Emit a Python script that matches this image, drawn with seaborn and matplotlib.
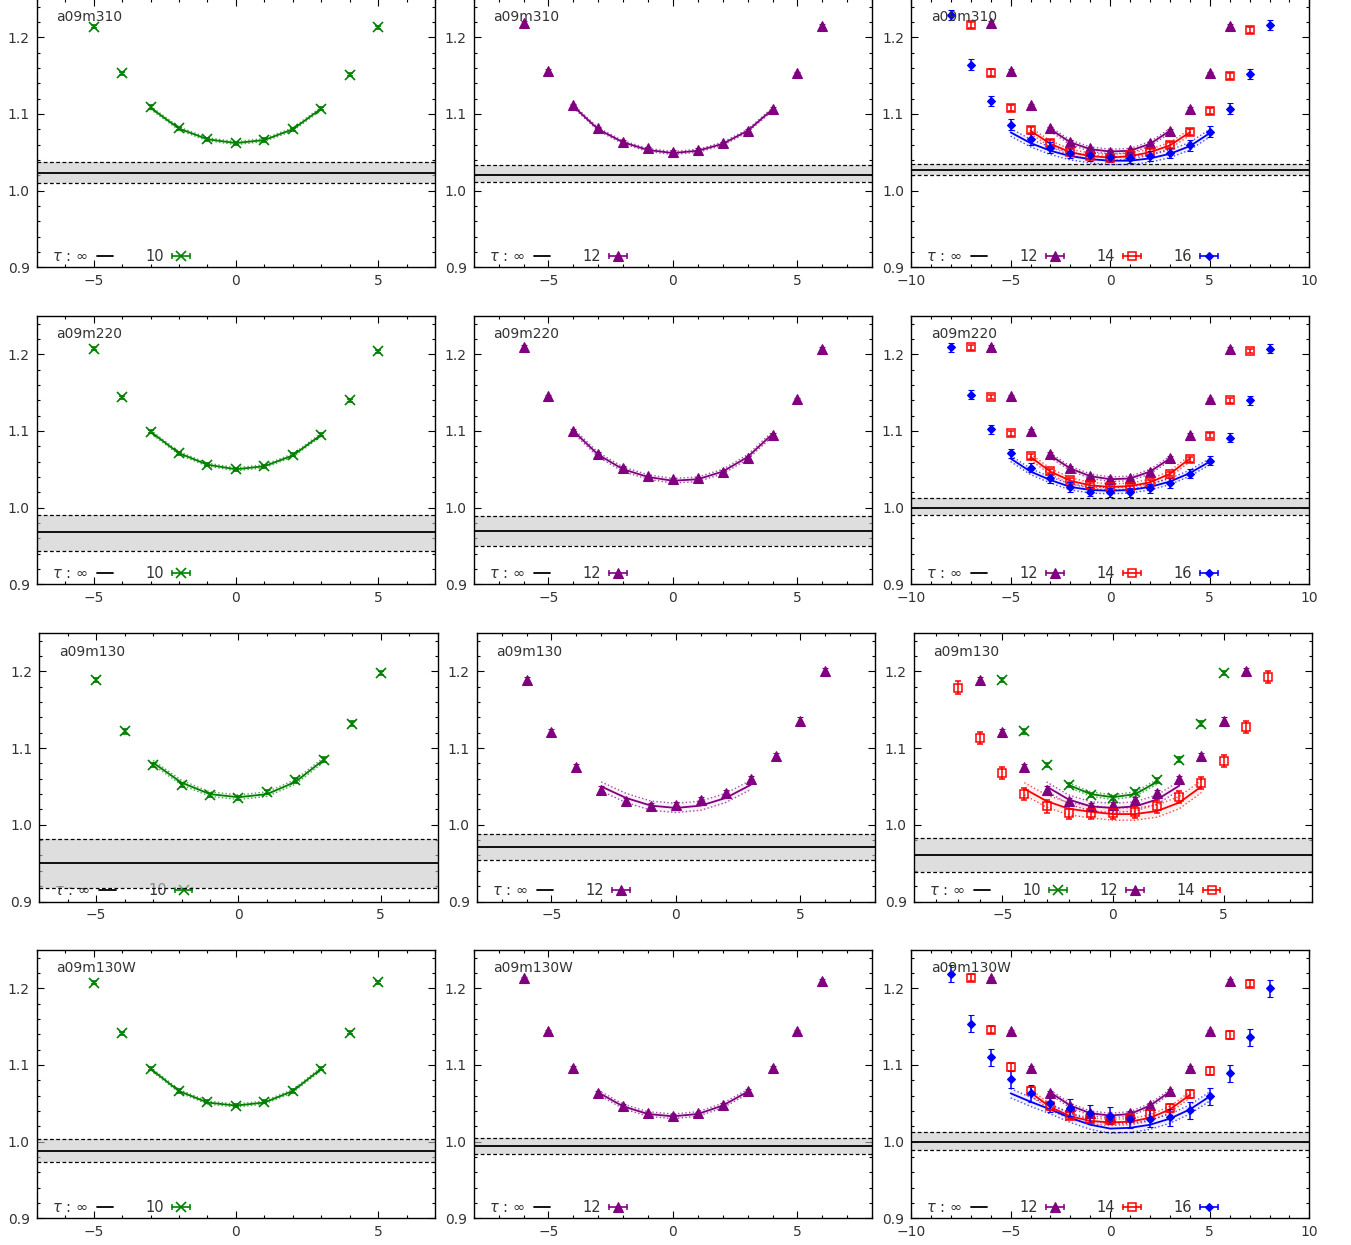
import numpy as np
import matplotlib.pyplot as plt
import seaborn as sns
from matplotlib.ticker import MultipleLocator, FormatStrFormatter

# ---- values ----
x_t10 = [-5, -4, -3, -2, -1, 0, 1, 2, 3, 4, 5]
x_t12 = [-6, -5, -4, -3, -2, -1, 0, 1, 2, 3, 4, 5, 6]
x_t14 = [-7, -6, -5, -4, -3, -2, -1, 0, 1, 2, 3, 4, 5, 6, 7]
x_t16 = [-8, -7, -6, -5, -4, -3, -2, -1, 0, 1, 2, 3, 4, 5, 6, 7, 8]

fx2 = [-2, -1, 0, 1, 2]
fx3 = [-3, -2, -1, 0, 1, 2, 3]
fx4 = [-4, -3, -2, -1, 0, 1, 2, 3, 4]
fx5 = [-5, -4, -3, -2, -1, 0, 1, 2, 3, 4, 5]

# a09m310
m310_t10 = [1.214, 1.153, 1.109, 1.081, 1.067, 1.062, 1.066, 1.080, 1.107, 1.151, 1.213]
m310_t12 = [1.219, 1.156, 1.111, 1.081, 1.064, 1.055, 1.051, 1.053, 1.062, 1.078, 1.107, 1.153, 1.215]
m310_t14 = [1.216, 1.154, 1.108, 1.079, 1.062, 1.050, 1.045, 1.043, 1.047, 1.050, 1.059, 1.076, 1.104, 1.149, 1.210]
m310_t16 = [1.229, 1.164, 1.117, 1.086, 1.067, 1.056, 1.049, 1.046, 1.044, 1.043, 1.045, 1.049, 1.059, 1.077, 1.107, 1.152, 1.216]
m310_err = [0.002, 0.002, 0.004, 0.007]
m310_band = [(1.023, 1.010, 1.037), (1.021, 1.011, 1.033), (1.027, 1.020, 1.035)]
m310_fit_c1_t10 = [1.108, 1.081, 1.067, 1.062, 1.066, 1.080, 1.107]
m310_fit_c2_t12 = [1.110, 1.080, 1.063, 1.053, 1.049, 1.052, 1.061, 1.078, 1.106]
m310_fit_c3_t12 = [1.080, 1.063, 1.054, 1.051, 1.052, 1.061, 1.078]
m310_fit_c3_t14 = [1.078, 1.061, 1.050, 1.045, 1.043, 1.045, 1.050, 1.059, 1.076]
m310_fit_c3_t16 = [1.076, 1.062, 1.052, 1.045, 1.041, 1.039, 1.039, 1.042, 1.048, 1.058, 1.075]

# a09m220
m220_t10 = [1.207, 1.144, 1.099, 1.071, 1.056, 1.050, 1.054, 1.069, 1.095, 1.140, 1.204]
m220_t12 = [1.210, 1.145, 1.100, 1.070, 1.052, 1.041, 1.037, 1.038, 1.047, 1.065, 1.095, 1.141, 1.207]
m220_t14 = [1.209, 1.144, 1.097, 1.067, 1.048, 1.036, 1.029, 1.027, 1.027, 1.033, 1.044, 1.063, 1.094, 1.140, 1.204]
m220_t16 = [1.209, 1.147, 1.102, 1.071, 1.052, 1.038, 1.027, 1.021, 1.020, 1.020, 1.025, 1.032, 1.044, 1.061, 1.091, 1.140, 1.207]
m220_err = [0.002, 0.002, 0.003, 0.006]
m220_band = [(0.968, 0.944, 0.990), (0.970, 0.950, 0.989), (1.000, 0.991, 1.012)]
m220_fit_c1_t10 = [1.099, 1.071, 1.056, 1.050, 1.054, 1.068, 1.095]
m220_fit_c2_t12 = [1.100, 1.069, 1.050, 1.040, 1.035, 1.037, 1.047, 1.066, 1.096]
m220_fit_c3_t12 = [1.068, 1.051, 1.041, 1.037, 1.038, 1.047, 1.064]
m220_fit_c3_t14 = [1.066, 1.047, 1.035, 1.029, 1.027, 1.028, 1.033, 1.044, 1.064]
m220_fit_c3_t16 = [1.064, 1.047, 1.036, 1.027, 1.023, 1.022, 1.023, 1.027, 1.034, 1.045, 1.060]

# a09m130
m130_t10 = [1.189, 1.122, 1.078, 1.052, 1.039, 1.035, 1.043, 1.058, 1.085, 1.132, 1.198]
m130_t12 = [1.189, 1.121, 1.075, 1.046, 1.031, 1.025, 1.026, 1.032, 1.042, 1.060, 1.090, 1.136, 1.201]
m130_t14 = [1.179, 1.113, 1.068, 1.040, 1.024, 1.016, 1.015, 1.016, 1.017, 1.024, 1.036, 1.055, 1.083, 1.128, 1.193]
m130_err = [0.003, 0.004, 0.008]
m130_band = [(0.950, 0.918, 0.982), (0.971, 0.954, 0.988), (0.960, 0.939, 0.983)]
m130_fit_c1_t10 = [1.081, 1.055, 1.040, 1.036, 1.040, 1.056, 1.085]
m130_fit_c2_t12 = [1.050, 1.035, 1.025, 1.022, 1.025, 1.035, 1.052]
m130_fit_c3_t10 = [1.052, 1.040, 1.036, 1.040, 1.056]
m130_fit_c3_t12 = [1.050, 1.033, 1.024, 1.022, 1.024, 1.033, 1.051]
m130_fit_c3_t14 = [1.047, 1.031, 1.021, 1.017, 1.014, 1.014, 1.018, 1.029, 1.050]

# a09m130W
m130W_t10 = [1.207, 1.141, 1.095, 1.066, 1.052, 1.047, 1.052, 1.066, 1.095, 1.142, 1.208]
m130W_t12 = [1.213, 1.144, 1.096, 1.064, 1.047, 1.037, 1.034, 1.037, 1.048, 1.066, 1.096, 1.144, 1.210]
m130W_t14 = [1.214, 1.146, 1.097, 1.066, 1.046, 1.034, 1.029, 1.028, 1.031, 1.036, 1.044, 1.062, 1.092, 1.139, 1.206]
m130W_t16 = [1.219, 1.154, 1.110, 1.081, 1.063, 1.050, 1.044, 1.037, 1.034, 1.029, 1.030, 1.032, 1.041, 1.059, 1.089, 1.136, 1.200]
m130W_err = [0.002, 0.002, 0.005, 0.011]
m130W_band = [(0.988, 0.973, 1.003), (0.994, 0.984, 1.005), (1.000, 0.989, 1.012)]
m130W_fit_c1_t10 = [1.095, 1.066, 1.051, 1.047, 1.051, 1.066, 1.095]
m130W_fit_c2_t12 = [1.064, 1.046, 1.036, 1.033, 1.036, 1.047, 1.065]
m130W_fit_c3_t12 = [1.064, 1.047, 1.037, 1.034, 1.036, 1.047, 1.065]
m130W_fit_c3_t14 = [1.064, 1.045, 1.033, 1.027, 1.025, 1.026, 1.031, 1.042, 1.061]
m130W_fit_c3_t16 = [1.063, 1.052, 1.042, 1.031, 1.022, 1.017, 1.018, 1.022, 1.030, 1.042, 1.059]

xs = {10: x_t10, 12: x_t12, 14: x_t14, 16: x_t16}
colors = {10: '#008000', 12: '#800080', 14: '#ff0000', 16: '#0000ff'}
mstyle = {10: dict(marker='x', ms=6.5, mew=1.2, mfc='none'),
          12: dict(marker='^', ms=6.5, mew=0.8),
          14: dict(marker='s', ms=6, mew=1.1, mfc='none'),
          16: dict(marker='D', ms=4.2, mew=0.8)}

rows = [
    ('a09m310', {10: m310_t10, 12: m310_t12, 14: m310_t14, 16: m310_t16},
     dict(zip([10, 12, 14, 16], m310_err)), m310_band,
     [{10: (fx3, m310_fit_c1_t10, 0.002)},
      {12: (fx4, m310_fit_c2_t12, 0.002)},
      {12: (fx3, m310_fit_c3_t12, 0.003), 14: (fx4, m310_fit_c3_t14, 0.004),
       16: (fx5, m310_fit_c3_t16, 0.005)}],
     [-10, 10]),
    ('a09m220', {10: m220_t10, 12: m220_t12, 14: m220_t14, 16: m220_t16},
     dict(zip([10, 12, 14, 16], m220_err)), m220_band,
     [{10: (fx3, m220_fit_c1_t10, 0.002)},
      {12: (fx4, m220_fit_c2_t12, 0.003)},
      {12: (fx3, m220_fit_c3_t12, 0.003), 14: (fx4, m220_fit_c3_t14, 0.004),
       16: (fx5, m220_fit_c3_t16, 0.004)}],
     [-10, 10]),
    ('a09m130', {10: m130_t10, 12: m130_t12, 14: m130_t14},
     dict(zip([10, 12, 14], m130_err)), m130_band,
     [{10: (fx3, m130_fit_c1_t10, 0.003)},
      {12: (fx3, m130_fit_c2_t12, 0.006)},
      {10: (fx2, m130_fit_c3_t10, 0.003), 12: (fx3, m130_fit_c3_t12, 0.006),
       14: (fx4, m130_fit_c3_t14, 0.008)}],
     [-9, 9]),
    ('a09m130W', {10: m130W_t10, 12: m130W_t12, 14: m130W_t14, 16: m130W_t16},
     dict(zip([10, 12, 14, 16], m130W_err)), m130W_band,
     [{10: (fx3, m130W_fit_c1_t10, 0.002)},
      {12: (fx3, m130W_fit_c2_t12, 0.003)},
      {12: (fx3, m130W_fit_c3_t12, 0.003), 14: (fx4, m130W_fit_c3_t14, 0.004),
       16: (fx5, m130W_fit_c3_t16, 0.006)}],
     [-10, 10]),
]

sns.set_style('ticks')
plt.rcParams['font.family'] = ['DejaVu Sans']
plt.rcParams['mathtext.fontset'] = 'dejavusans'
txt = '#333333'

W, H = 1351, 1245
fig = plt.figure(figsize=(W / 100, H / 100), dpi=100)

row_bottom = [267.3, 584.3, 901.5, 1218.3]
col_left = [[36.7, 473.7, 911.0], [36.7, 473.7, 911.0], [39.3, 476.7, 913.7], [36.7, 473.7, 911.0]]
aw, ah = 398.4, 268.4


def draw_legend(ax, taus):
    y = 0.041
    ax.text(0.127, y, r'$\tau$ : $\infty$', transform=ax.transAxes, ha='right', va='center',
            fontsize=10.5, color=txt, zorder=1)
    ax.plot([0.151, 0.192], [y, y], color='black', lw=1.3, transform=ax.transAxes, zorder=1)
    for k, tau in enumerate(taus):
        x0 = 0.320 + 0.193 * k
        c = colors[tau]
        ax.text(x0, y, str(tau), transform=ax.transAxes, ha='right', va='center',
                fontsize=10.5, color=txt, zorder=1)
        a, b = x0 + 0.02, x0 + 0.064
        ax.plot([a, b], [y, y], color=c, lw=1.2, transform=ax.transAxes, zorder=1)
        ax.plot([a, b], [y, y], ls='none', marker='|', ms=5, mew=1.1, color=c,
                transform=ax.transAxes, zorder=1)
        ax.plot([(a + b) / 2], [y], ls='none', color=c, transform=ax.transAxes, zorder=1,
                **mstyle[tau])


for r, (name, pts, errs, bands, fits, xl3) in enumerate(rows):
    taus_c3 = list(fits[2].keys())
    shown = [[10], [12], taus_c3]
    xlims = [[-7, 7], [-8, 8], xl3]
    for c in range(3):
        left = col_left[r][c]
        ax = fig.add_axes([left / W, 1 - row_bottom[r] / H, aw / W, ah / H])
        ax.set_xlim(*xlims[c])
        ax.set_ylim(0.9, 1.25)

        mid, lo, hi = bands[c]
        ax.axhspan(lo, hi, color='#c8c8c8', alpha=0.6, lw=0, zorder=2)
        ax.axhline(mid, color='black', lw=1.3, zorder=2.1)
        ax.axhline(lo, color='black', lw=0.9, ls=(0, (3, 2)), zorder=2.1)
        ax.axhline(hi, color='black', lw=0.9, ls=(0, (3, 2)), zorder=2.1)

        for tau in shown[c]:
            col = colors[tau]
            fx, fy, hw = fits[c][tau]
            fy = np.array(fy)
            ax.fill_between(fx, fy - hw, fy + hw, color=col, alpha=0.06, lw=0, zorder=3)
            ax.plot(fx, fy - hw, ls=':', lw=1.0, color=col, alpha=0.7, zorder=3)
            ax.plot(fx, fy + hw, ls=':', lw=1.0, color=col, alpha=0.7, zorder=3)
            sns.lineplot(x=fx, y=fy, color=col, lw=1.3, ax=ax, zorder=3.5)
            ax.errorbar(xs[tau], pts[tau], yerr=errs[tau], ls='none', color=col,
                        capsize=2, elinewidth=1.1, capthick=1.1, zorder=4, **mstyle[tau])

        draw_legend(ax, shown[c])
        ax.text(0.05, 0.931, name, transform=ax.transAxes, ha='left', va='center',
                fontsize=10, color=txt, zorder=5)

        ax.xaxis.set_major_locator(MultipleLocator(5))
        ax.xaxis.set_minor_locator(MultipleLocator(1))
        ax.yaxis.set_major_locator(MultipleLocator(0.1))
        ax.yaxis.set_minor_locator(MultipleLocator(0.02))
        ax.yaxis.set_major_formatter(FormatStrFormatter('%.1f'))
        ax.tick_params(which='both', direction='in', top=True, right=True,
                       labelsize=10, labelcolor=txt, width=0.8, color='black')
        ax.tick_params(which='major', length=5, pad=5)
        ax.tick_params(which='minor', length=2.5)
        for s in ax.spines.values():
            s.set_linewidth(1.0)
            s.set_color('black')
        ax.set_xlabel('')
        ax.set_ylabel('')

fig.savefig('out.png', dpi=100)
